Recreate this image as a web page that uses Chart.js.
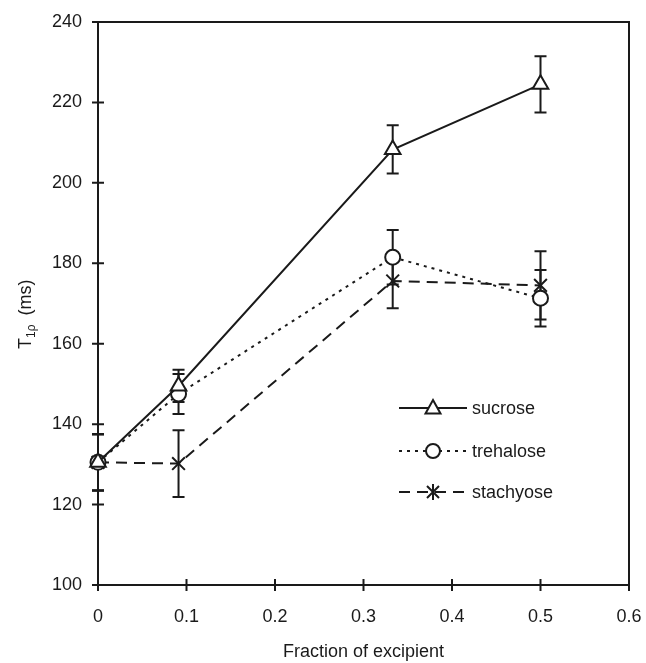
<html>
<head>
<meta charset="utf-8">
<title>T1rho vs fraction of excipient</title>
<script src="https://cdn.jsdelivr.net/npm/chart.js@4.4.1/dist/chart.umd.min.js"></script>
<style>
body { margin: 0; background: #fff; }
#wrap { position: relative; width: 646px; height: 663px; }
</style>
</head>
<body>
<div id="wrap"><canvas id="t1Chart" width="646" height="663"></canvas></div>

<script>
// values
var fraction = [0, 0.091, 0.333, 0.5];
var sucrose = [130.5, 149.5, 208.3, 224.5];
var sucroseErr = [7, 4, 6, 7];
var trehalose = [130.5, 147.5, 181.5, 171.3];
var trehaloseErr = [7, 5, 6.8, 7];
var stachyose = [130.5, 130.2, 175.6, 174.5];
var stachyoseErr = [7, 8.3, 6.8, 8.5];
var seriesNames = ['sucrose', 'trehalose', 'stachyose'];
var xTicks = [0, 0.1, 0.2, 0.3, 0.4, 0.5, 0.6];
var yTicks = [100, 120, 140, 160, 180, 200, 220, 240];

var FONT = 'Liberation Sans, Arial, sans-serif';
var INK = '#1a1a1a';

function pts(ys) {
    return fraction.map(function(x, i) { return {x: x, y: ys[i]}; });
}

var errs = [sucroseErr, trehaloseErr, stachyoseErr];
var dashes = [[], [3, 5], [11, 7]];

// error bars, under the markers
const errorBars = {
    id: 'errorBars',
    beforeDatasetsDraw(chart) {
        const ctx = chart.ctx;
        const ys = chart.scales.y;
        ctx.save();
        ctx.strokeStyle = INK;
        ctx.lineWidth = 2;
        ctx.setLineDash([]);
        chart.data.datasets.forEach(function(ds, i) {
            const meta = chart.getDatasetMeta(i);
            meta.data.forEach(function(p, j) {
                const v = ds.data[j].y;
                const top = ys.getPixelForValue(v + errs[i][j]);
                const bot = ys.getPixelForValue(v - errs[i][j]);
                ctx.beginPath();
                ctx.moveTo(p.x, top); ctx.lineTo(p.x, bot);
                ctx.moveTo(p.x - 6, top); ctx.lineTo(p.x + 6, top);
                ctx.moveTo(p.x - 6, bot); ctx.lineTo(p.x + 6, bot);
                ctx.stroke();
            });
        });
        ctx.restore();
    }
};

function drawMarker(ctx, kind, x, y) {
    ctx.save();
    ctx.setLineDash([]);
    ctx.lineWidth = 2;
    ctx.strokeStyle = INK;
    ctx.fillStyle = '#fff';
    ctx.beginPath();
    if (kind === 0) {
        ctx.moveTo(x, y - 8);
        ctx.lineTo(x + 7.5, y + 5.5);
        ctx.lineTo(x - 7.5, y + 5.5);
        ctx.closePath();
        ctx.fill(); ctx.stroke();
    } else if (kind === 1) {
        ctx.arc(x, y, 7, 0, Math.PI * 2);
        ctx.fill(); ctx.stroke();
    } else {
        ctx.moveTo(x - 6, y - 6); ctx.lineTo(x + 6, y + 6);
        ctx.moveTo(x + 6, y - 6); ctx.lineTo(x - 6, y + 6);
        ctx.moveTo(x, y - 8); ctx.lineTo(x, y + 8);
        ctx.stroke();
    }
    ctx.restore();
}

// frame, crossing tick marks, y title and the legend
const extras = {
    id: 'extras',
    beforeDatasetsDraw(chart) {
        const ctx = chart.ctx;
        const a = chart.chartArea;
        const xs = chart.scales.x, ys = chart.scales.y;
        ctx.save();
        ctx.strokeStyle = INK;
        ctx.lineWidth = 2;
        ctx.strokeRect(a.left, a.top, a.right - a.left, a.bottom - a.top);
        ctx.beginPath();
        yTicks.forEach(function(v) {
            const py = ys.getPixelForValue(v);
            ctx.moveTo(a.left - 6, py); ctx.lineTo(a.left + 6, py);
        });
        xTicks.forEach(function(v) {
            const px = xs.getPixelForValue(v);
            ctx.moveTo(px, a.bottom - 6); ctx.lineTo(px, a.bottom + 6);
        });
        ctx.stroke();
        ctx.restore();
    },
    afterDraw(chart) {
        const ctx = chart.ctx;
        ctx.save();
        // y title: T with subscript 1rho, then (ms)
        ctx.translate(31, 349);
        ctx.rotate(-Math.PI / 2);
        ctx.fillStyle = INK;
        ctx.textBaseline = 'alphabetic';
        ctx.textAlign = 'left';
        ctx.font = '18px ' + FONT;
        ctx.fillText('T', 0, 0);
        let w = ctx.measureText('T').width;
        ctx.font = '12px ' + FONT;
        ctx.fillText('1\u03C1', w, 4);
        w += ctx.measureText('1\u03C1').width + 9;
        ctx.font = '18px ' + FONT;
        ctx.fillText('(ms)', w, 0);
        ctx.restore();

        // legend
        const rows = [408, 451, 492];
        ctx.save();
        ctx.strokeStyle = INK;
        ctx.lineWidth = 2;
        rows.forEach(function(ry, i) {
            ctx.setLineDash(dashes[i]);
            ctx.beginPath();
            ctx.moveTo(399, ry); ctx.lineTo(467, ry);
            ctx.stroke();
            drawMarker(ctx, i, 433, ry);
            ctx.fillStyle = INK;
            ctx.font = '18px ' + FONT;
            ctx.textBaseline = 'middle';
            ctx.fillText(seriesNames[i], 472, ry + 1);
        });
        ctx.restore();
    }
};

const ctx = document.getElementById('t1Chart').getContext('2d');
const t1Chart = new Chart(ctx, {
    type: 'scatter',
    data: {
        datasets: [
            {label: 'sucrose', data: pts(sucrose), showLine: true, borderColor: INK, borderWidth: 2, clip: false,
             pointStyle: 'triangle', pointRadius: 9, pointBackgroundColor: '#fff', pointBorderColor: INK, pointBorderWidth: 2},
            {label: 'trehalose', data: pts(trehalose), showLine: true, borderColor: INK, borderWidth: 2, borderDash: dashes[1], clip: false,
             pointStyle: 'circle', pointRadius: 7.5, pointBackgroundColor: '#fff', pointBorderColor: INK, pointBorderWidth: 2},
            {label: 'stachyose', data: pts(stachyose), showLine: true, borderColor: INK, borderWidth: 2, borderDash: dashes[2], clip: false,
             pointStyle: 'crossRot', pointRadius: 9, pointBackgroundColor: '#fff', pointBorderColor: INK, pointBorderWidth: 2}
        ]
    },
    options: {
        responsive: false,
        animation: false,
        layout: {padding: {top: 22, right: 17, left: 0, bottom: 0}},
        plugins: {legend: {display: false}, tooltip: {enabled: false}},
        scales: {
            x: {
                type: 'linear', min: 0, max: 0.6,
                afterFit: function(s) { s.height = 78; s.paddingLeft = 0; s.paddingRight = 0; },
                grid: {display: false, drawTicks: false},
                border: {display: false},
                ticks: {
                    stepSize: 0.1, padding: 21, color: INK,
                    font: {family: FONT, size: 18},
                    callback: function(v) { return v === 0 ? '0' : v.toFixed(1); }
                },
                title: {display: true, text: 'Fraction of excipient', color: INK,
                        font: {family: FONT, size: 18}, padding: {top: 0, bottom: 0}}
            },
            y: {
                min: 100, max: 240,
                afterFit: function(s) { s.width = 98; s.paddingTop = 0; s.paddingBottom = 0; },
                grid: {display: false, drawTicks: false},
                border: {display: false},
                ticks: {stepSize: 20, padding: 16, color: INK, font: {family: FONT, size: 18}}
            }
        }
    },
    plugins: [errorBars, extras]
});
</script>
</body>
</html>
